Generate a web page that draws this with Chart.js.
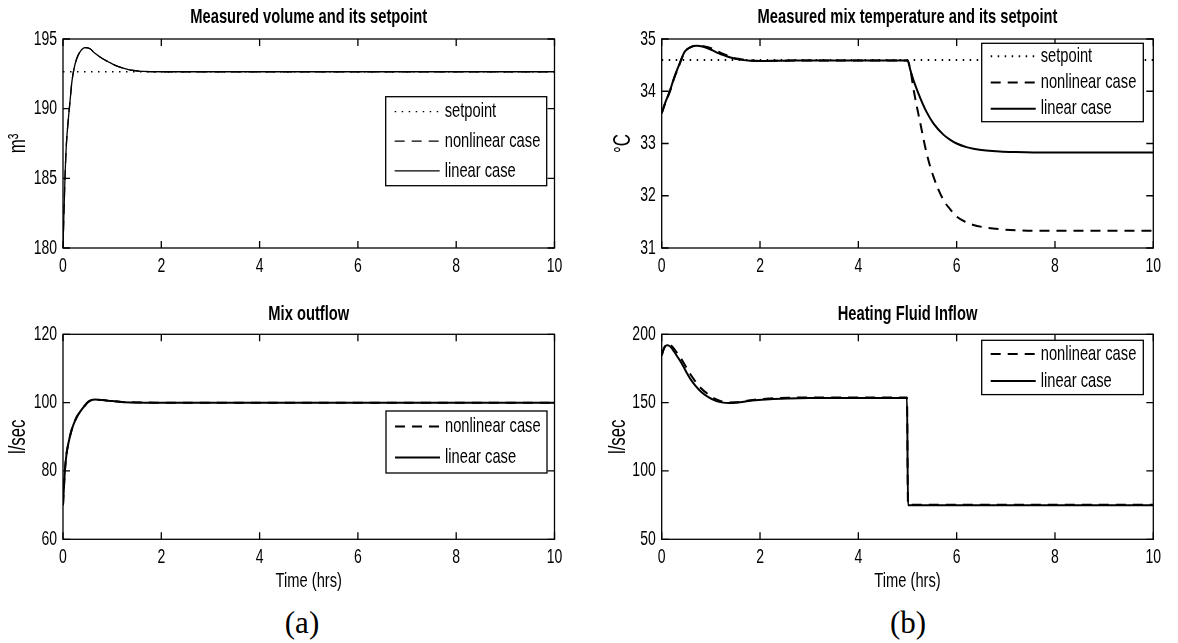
<!DOCTYPE html>
<html>
<head>
<meta charset="utf-8">
<title>Mixing tank response</title>
<script src="https://cdn.jsdelivr.net/npm/chart.js@4.4.0/dist/chart.umd.min.js"></script>
<style>
  body { margin: 0; background: #fff; width: 1178px; height: 643px; position: relative; overflow: hidden; }
  .panel { position: absolute; }
  .tag { position: absolute; font-family: 'Liberation Serif', 'DejaVu Serif', serif; font-size: 31px;
         transform: translate(-50%, -50%); color: #000; }
</style>
</head>
<body>
<div class="panel" style="left:0;top:0;width:589px;height:300px"><canvas id="volChart"></canvas></div>
<div class="panel" style="left:600px;top:0;width:578px;height:300px"><canvas id="tempChart"></canvas></div>
<div class="panel" style="left:0;top:295px;width:589px;height:300px"><canvas id="outChart"></canvas></div>
<div class="panel" style="left:600px;top:295px;width:578px;height:300px"><canvas id="heatChart"></canvas></div>
<div class="tag" style="left:302px;top:623px">(a)</div>
<div class="tag" style="left:908px;top:623px">(b)</div>

<script>
// ---- data (time in hours) ----
const timeTicks = [0, 2, 4, 6, 8, 10];

const volTime = [0, 0.02, 0.04, 0.07, 0.11, 0.15, 0.18, 0.22, 0.28, 0.35, 0.45, 0.55, 0.65, 0.8, 0.92, 1.05, 1.19, 1.35, 1.53, 1.75, 2, 3, 4, 5, 6, 7, 8, 9, 10];
const volLinear = [180, 182.6, 185, 187.5, 189.3, 190.8, 191.9, 192.8, 193.6, 194.1, 194.38, 194.3, 193.97, 193.6, 193.37, 193.13, 192.94, 192.78, 192.7, 192.66, 192.65, 192.65, 192.65, 192.65, 192.65, 192.65, 192.65, 192.65, 192.65];
const volNonlinear = [180, 182.6, 185, 187.5, 189.3, 190.8, 191.9, 192.8, 193.6, 194.1, 194.38, 194.3, 193.97, 193.6, 193.37, 193.13, 192.94, 192.78, 192.7, 192.66, 192.65, 192.65, 192.65, 192.65, 192.65, 192.65, 192.65, 192.65, 192.65];
const volSetpoint = 192.65;

const tempTime = [0, 0.08, 0.17, 0.25, 0.34, 0.47, 0.58, 0.71, 0.85, 1.02, 1.15, 1.29, 1.42, 1.56, 1.8, 2.03, 2.5, 3, 3.5, 4, 4.5, 4.98, 5, 5.06, 5.13, 5.26, 5.39, 5.53, 5.73, 5.87, 6, 6.2, 6.34, 6.6, 6.88, 7.2, 7.56, 8, 9, 10];
const tempLinear = [33.58, 33.8, 34.02, 34.25, 34.47, 34.76, 34.84, 34.87, 34.85, 34.79, 34.73, 34.68, 34.64, 34.61, 34.585, 34.58, 34.585, 34.59, 34.59, 34.59, 34.59, 34.59, 34.59, 34.4, 34.19, 33.87, 33.6, 33.38, 33.17, 33.07, 33.0, 32.93, 32.9, 32.865, 32.845, 32.835, 32.83, 32.83, 32.83, 32.83];
const tempNonlinear = [33.58, 33.79, 34.0, 34.24, 34.46, 34.75, 34.84, 34.87, 34.86, 34.82, 34.76, 34.7, 34.65, 34.62, 34.59, 34.58, 34.585, 34.59, 34.59, 34.59, 34.59, 34.59, 34.59, 34.4, 34.0, 33.39, 32.81, 32.36, 31.92, 31.74, 31.6, 31.49, 31.44, 31.39, 31.36, 31.34, 31.33, 31.33, 31.33, 31.33];
const tempSetpoint = 34.6;

const outTime = [0, 0.02, 0.04, 0.07, 0.11, 0.16, 0.21, 0.28, 0.35, 0.43, 0.52, 0.65, 0.8, 1, 1.19, 1.5, 1.87, 2.5, 4, 6, 8, 10];
const outLinear = [70, 75.5, 80.3, 84.8, 88.1, 91.2, 93.45, 95.8, 97.35, 98.9, 100.3, 100.9, 100.75, 100.45, 100.2, 100.05, 100, 100, 100, 100, 100, 100];
const outNonlinear = [70, 75.5, 80.3, 84.8, 88.1, 91.2, 93.45, 95.8, 97.35, 98.9, 100.3, 100.9, 100.75, 100.45, 100.2, 100.05, 100, 100, 100, 100, 100, 100];

const heatTime = [0, 0.04, 0.08, 0.12, 0.18, 0.25, 0.33, 0.41, 0.5, 0.6, 0.68, 0.8, 0.95, 1.1, 1.25, 1.36, 1.5, 1.7, 1.9, 2.2, 2.58, 3, 3.5, 4, 4.5, 4.99, 5.01, 6, 7, 8, 9, 10];
const heatLinear = [184.6, 189, 191.5, 192, 190.8, 187.5, 183, 178.5, 172.5, 166.5, 162.7, 158, 154, 151.3, 150, 149.7, 149.9, 150.8, 151.7, 152.5, 153, 153.3, 153.4, 153.4, 153.4, 153.4, 75, 75, 75, 75, 75, 75];
const heatNonlinear = [184.6, 189.3, 192, 193, 192.2, 189.5, 185.5, 181.3, 175.8, 169.8, 165.8, 160.5, 156, 152.5, 150.6, 150.1, 150.2, 151.2, 152.2, 153, 153.6, 153.8, 153.8, 153.8, 153.8, 153.8, 75.3, 75.3, 75.3, 75.3, 75.3, 75.3];

// ---- styling ----
const FONT = "'Liberation Sans', Arial, Helvetica, sans-serif";
const SQUEEZE = 0.7;   // no narrow Helvetica installed, so canvas text is squeezed horizontally
Chart.defaults.font.family = FONT;
Chart.defaults.color = '#000';

const rawFillText = CanvasRenderingContext2D.prototype.fillText;
CanvasRenderingContext2D.prototype.fillText = function (text, x, y) {
  this.save();
  this.translate(x, y);
  this.scale(SQUEEZE, 1);
  rawFillText.call(this, text, 0, 0);
  this.restore();
};

const zip = (xs, ys) => xs.map((x, i) => ({ x, y: ys[i] }));
const flat = (v) => [{ x: 0, y: v }, { x: 10, y: v }];

function curve(label, points, dash, width) {
  return {
    label,
    data: points,
    borderColor: '#000',
    borderWidth: width,
    borderDash: dash,
    pointRadius: 0,
    fill: false,
    cubicInterpolationMode: 'monotone'
  };
}

// box around the plot area with inward ticks on all four sides
const matlabAxes = {
  id: 'matlabAxes',
  afterDatasetsDraw(chart) {
    const { ctx, chartArea: a, scales } = chart;
    const len = 7;
    ctx.save();
    ctx.strokeStyle = '#000';
    ctx.lineWidth = 1.3;
    ctx.setLineDash([]);
    ctx.beginPath();
    scales.x.ticks.forEach(t => {
      const px = scales.x.getPixelForValue(t.value);
      ctx.moveTo(px, a.bottom); ctx.lineTo(px, a.bottom - len);
      ctx.moveTo(px, a.top); ctx.lineTo(px, a.top + len);
    });
    scales.y.ticks.forEach(t => {
      const py = scales.y.getPixelForValue(t.value);
      ctx.moveTo(a.left, py); ctx.lineTo(a.left + len, py);
      ctx.moveTo(a.right, py); ctx.lineTo(a.right - len, py);
    });
    ctx.stroke();
    ctx.strokeRect(a.left, a.top, a.right - a.left, a.bottom - a.top);
    ctx.restore();
  }
};

// framed legend placed inside the plot area
const boxLegend = {
  id: 'boxLegend',
  afterDraw(chart, args, opts) {
    const { ctx, chartArea: a } = chart;
    const x = a.left + opts.left, y = a.top + opts.top;
    const sets = chart.data.datasets;
    const rowH = opts.height / sets.length;
    ctx.save();
    ctx.fillStyle = '#fff';
    ctx.fillRect(x, y, opts.width, opts.height);
    ctx.strokeStyle = '#000';
    ctx.lineWidth = 1.3;
    ctx.strokeRect(x, y, opts.width, opts.height);
    sets.forEach((ds, i) => {
      const cy = y + rowH * (i + 0.5);
      ctx.beginPath();
      ctx.setLineDash(ds.borderDash || []);
      ctx.lineWidth = ds.borderWidth;
      ctx.strokeStyle = ds.borderColor;
      ctx.moveTo(x + 9, cy);
      ctx.lineTo(x + 54, cy);
      ctx.stroke();
      ctx.setLineDash([]);
      ctx.fillStyle = '#000';
      ctx.font = '21px ' + FONT;
      ctx.textAlign = 'left';
      ctx.textBaseline = 'middle';
      ctx.fillText(ds.label, x + 59, cy);
    });
    ctx.restore();
  }
};

function makeChart(id, cfg) {
  return new Chart(document.getElementById(id), {
    type: 'line',
    data: { datasets: cfg.datasets },
    plugins: [matlabAxes, boxLegend],
    options: {
      responsive: true,
      maintainAspectRatio: false,
      animation: false,
      layout: { padding: { left: 0, top: 0, right: cfg.padRight, bottom: 0 } },
      plugins: {
        legend: { display: false },
        tooltip: { enabled: false },
        title: {
          display: true,
          text: cfg.title,
          fullSize: false,
          font: { size: 21, weight: 'bold' },
          padding: { top: cfg.titleTop, bottom: cfg.titleBottom }
        },
        boxLegend: cfg.legend
      },
      scales: {
        x: {
          type: 'linear',
          min: 0,
          max: 10,
          grid: { display: false, drawTicks: false },
          border: { display: false },
          afterBuildTicks: s => { s.ticks = timeTicks.map(v => ({ value: v })); },
          ticks: { font: { size: 20 }, padding: 6, maxRotation: 0 },
          title: {
            display: !!cfg.xTitle,
            text: cfg.xTitle || '',
            font: { size: 21 },
            padding: { top: 0, bottom: 1.5 }
          },
          afterFit: s => { s.height = cfg.xHeight; s.paddingLeft = 0; s.paddingRight = 0; }
        },
        y: {
          min: cfg.yMin,
          max: cfg.yMax,
          grid: { display: false, drawTicks: false },
          border: { display: false },
          afterBuildTicks: s => { s.ticks = cfg.yTicks.map(v => ({ value: v })); },
          ticks: { font: { size: 20 }, padding: 6 },
          title: {
            display: true,
            text: cfg.yTitle,
            font: { size: 24 },
            padding: { top: cfg.yTitlePad, bottom: 0 }
          },
          afterFit: s => { s.width = cfg.yWidth; s.paddingTop = 0; s.paddingBottom = 0; }
        }
      }
    }
  });
}

makeChart('volChart', {
  title: 'Measured volume and its setpoint',
  titleTop: 4.4, titleBottom: 9.4,
  padRight: 34.5, yWidth: 63, xHeight: 52,
  yMin: 180, yMax: 195, yTicks: [180, 185, 190, 195],
  yTitle: 'm\u00B3', yTitlePad: 4,
  legend: { left: 322.7, top: 57.7, width: 161, height: 89 },
  datasets: [
    curve('setpoint', flat(volSetpoint), [1.5, 5.5], 1.3),
    curve('nonlinear case', zip(volTime, volNonlinear), [10, 7], 1.3),
    curve('linear case', zip(volTime, volLinear), [], 1.3)
  ]
});

makeChart('tempChart', {
  title: 'Measured mix temperature and its setpoint',
  titleTop: 4.4, titleBottom: 9.4,
  padRight: 24.7, yWidth: 61.7, xHeight: 52,
  yMin: 31, yMax: 35, yTicks: [31, 32, 33, 34, 35],
  yTitle: '\u00B0C', yTitlePad: 9,
  legend: { left: 320, top: 4.3, width: 161.6, height: 78.4 },
  datasets: [
    curve('setpoint', flat(tempSetpoint), [1.5, 5.5], 2),
    curve('nonlinear case', zip(tempTime, tempNonlinear), [10, 7], 2),
    curve('linear case', zip(tempTime, tempLinear), [], 2)
  ]
});

makeChart('outChart', {
  title: 'Mix outflow',
  titleTop: 6.4, titleBottom: 7.7,
  padRight: 34.5, yWidth: 63, xHeight: 55.7,
  yMin: 60, yMax: 120, yTicks: [60, 80, 100, 120],
  yTitle: 'l/sec', yTitlePad: 4,
  xTitle: 'Time (hrs)',
  legend: { left: 323, top: 76.7, width: 161, height: 62 },
  datasets: [
    curve('nonlinear case', zip(outTime, outNonlinear), [10, 7], 2),
    curve('linear case', zip(outTime, outLinear), [], 2)
  ]
});

makeChart('heatChart', {
  title: 'Heating Fluid Inflow',
  titleTop: 6.4, titleBottom: 7.7,
  padRight: 24.7, yWidth: 61.7, xHeight: 55.7,
  yMin: 50, yMax: 200, yTicks: [50, 100, 150, 200],
  yTitle: 'l/sec', yTitlePad: 4,
  xTitle: 'Time (hrs)',
  legend: { left: 320, top: 6, width: 161.6, height: 54.3 },
  datasets: [
    curve('nonlinear case', zip(heatTime, heatNonlinear), [10, 7], 2),
    curve('linear case', zip(heatTime, heatLinear), [], 2)
  ]
});
</script>
</body>
</html>
